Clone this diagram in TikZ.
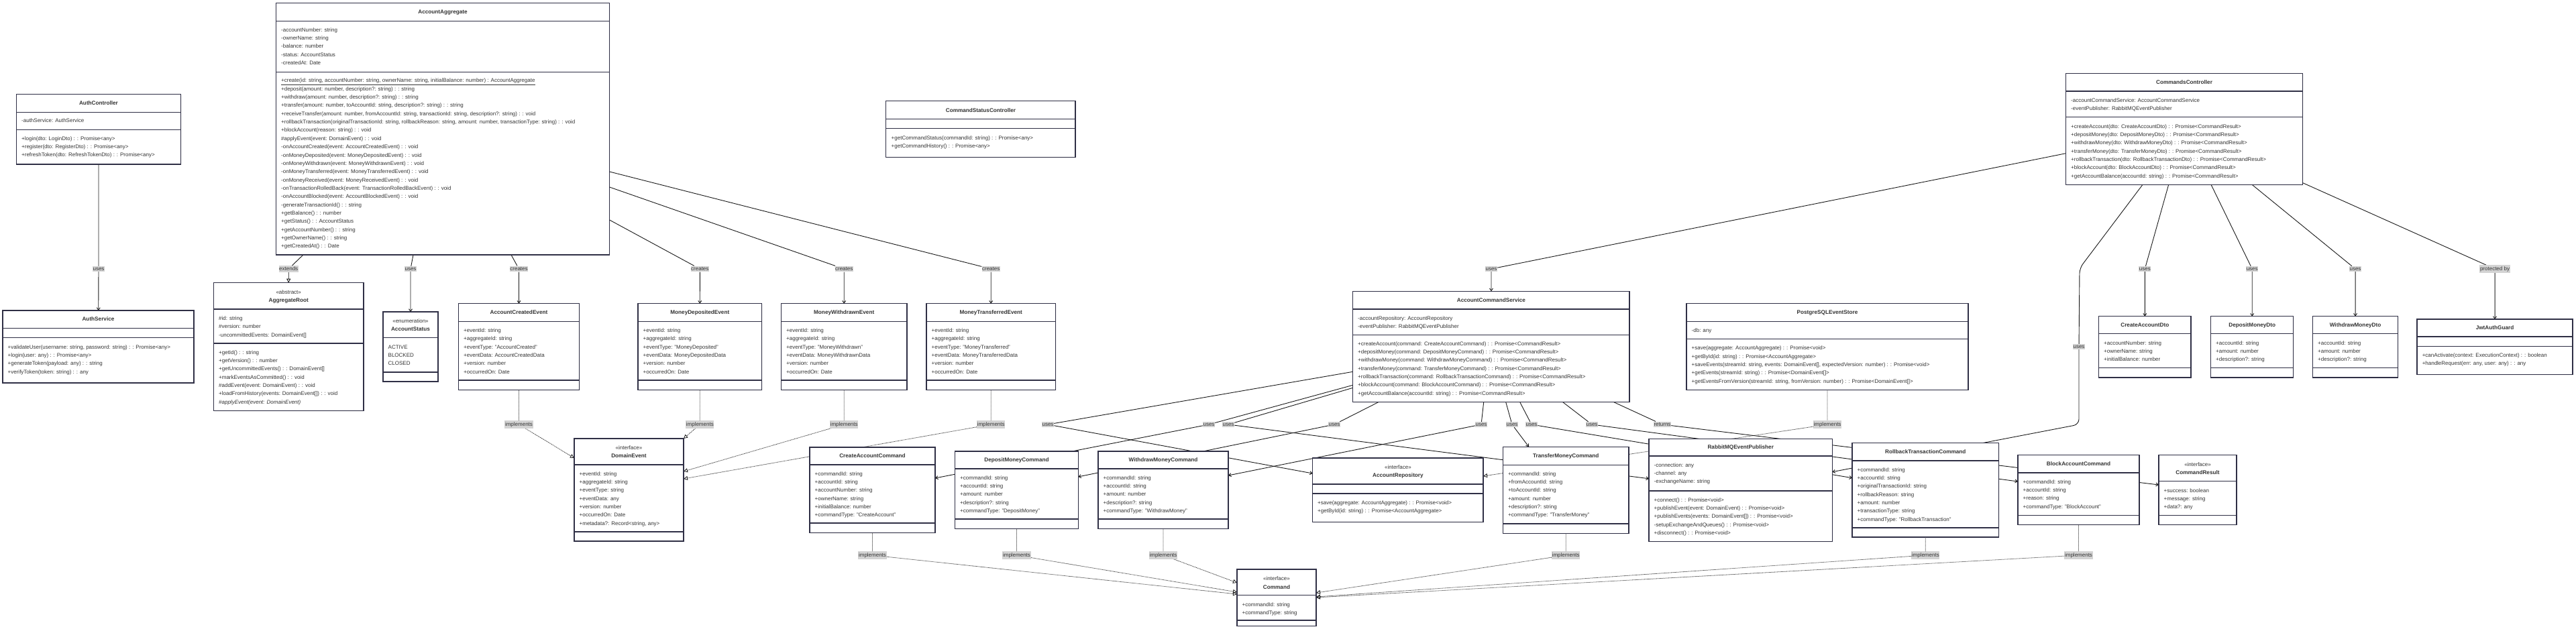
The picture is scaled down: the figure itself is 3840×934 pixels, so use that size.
\documentclass[tikz,border=0pt]{standalone}
\usepackage{fontspec}
\setmainfont{Liberation Sans}
\usetikzlibrary{arrows.meta,shadows}

\definecolor{umlborder}{HTML}{2F2F45}
\definecolor{umltext}{HTML}{333333}
\definecolor{edgebg}{HTML}{D3D3D3}
\definecolor{edgeink}{HTML}{1A1A1A}

\pgfdeclarelayer{background}
\pgfdeclarelayer{edges}
\pgfsetlayers{background,edges,main}

\tikzset{
  classbox/.style={draw=umlborder,fill=white,line width=1.3pt,outer sep=0pt,inner sep=0pt,
    drop shadow={opacity=0.08,shadow xshift=1.2pt,shadow yshift=-1.2pt}},
  classline/.style={draw=umlborder,line width=1.2pt},
  rowtext/.style={anchor=west,inner sep=0pt,text=umltext,text height=6pt,text depth=1.7pt,
    font=\fontsize{8}{9.6}\selectfont},
  titletext/.style={inner sep=0pt,text=umltext,text height=6pt,text depth=1.7pt,
    font=\fontsize{8.2}{9.6}\selectfont\bfseries},
  stereotext/.style={inner sep=0pt,text=umltext,text height=6pt,text depth=1.7pt,
    font=\fontsize{8}{9.6}\selectfont},
  edgelabel/.style={fill=edgebg,text=umltext,inner xsep=0.6pt,inner ysep=1.8pt,
    font=\fontsize{8}{9.6}\selectfont},
  assoc/.style={draw=edgeink,line width=0.9pt,-{Straight Barb[length=3.5pt,width=5pt]}},
  extend/.style={draw=edgeink,line width=0.9pt,-{Triangle[open,length=6pt,width=6pt]}},
  realize/.style={draw=edgeink,line width=0.8pt,dash pattern=on 1pt off 1pt,
    -{Triangle[open,length=6pt,width=6pt]}},
}

% box: name, left, right, top, header bottom, attribute bottom, bottom
\newcommand\UmlClass[7]{
  \node[classbox,anchor=north west,minimum width={(#3)-(#2)},minimum height={(#7)-(#4)}] (#1) at (#2,#4) {};
  \draw[classline] (#2,#5) -- (#3,#5);
  \draw[classline] (#2,#6) -- (#3,#6);
}
\newcommand\UmlTitle[4]{
  \node[titletext] (#1-title) at (#2,#3) {#4};
}
\newcommand\UmlStereo[6]{
  \node[stereotext] (#1-stereo) at (#2,#3) {«#5»};
  \node[titletext] (#1-title) at (#2,#4) {#6};
}
% rows: name, x, first y, id, list
\newcommand\UmlRows[5]{
  \foreach \row [count=\i] in {#5} {
    \node[rowtext] (#1-#4\i) at (#2,{#3+(\i-1)*12.35}) {\row};
  }
}

\begin{document}
\begin{tikzpicture}[x=1pt,y=-1pt]
\begin{pgfonlayer}{background}
  \fill[white] (0,0) rectangle (3840,934);
\end{pgfonlayer}
\useasboundingbox (0,0) rectangle (3840,934);

% auth
\UmlClass{authctl}{24.5}{269.4}{140.7}{167.3}{193.3}{245}
\UmlTitle{authctl}{147}{154}{AuthController}
\UmlRows{authctl}{32}{180.5}{a}{{-authService: AuthService}}
\UmlRows{authctl}{32}{207}{m}{{+login(dto: LoginDto) : : Promise<any>},{+register(dto: RegisterDto) : : Promise<any>},{+refreshToken(dto: RefreshTokenDto) : : Promise<any>}}

\UmlClass{authsvc}{4}{289}{463}{489.7}{503.7}{571}
\UmlTitle{authsvc}{146.5}{476.5}{AuthService}
\UmlRows{authsvc}{11.5}{518}{m}{{+validateUser(username: string, password: string) : : Promise<any>},{+login(user: any) : : Promise<any>},{+generateToken(payload: any) : : string},{+verifyToken(token: string) : : any}}

% domain
\UmlClass{agg}{411.4}{908.6}{4.7}{31.7}{107.3}{380}
\UmlTitle{agg}{660}{18.5}{AccountAggregate}
\UmlRows{agg}{419}{45}{a}{{-accountNumber: string},{-ownerName: string},{-balance: number},{-status: AccountStatus},{-createdAt: Date}}
\UmlRows{agg}{419}{120.7}{m}{{\underline{+create(id: string, accountNumber: string, ownerName: string, initialBalance: number) : AccountAggregate}},
  {+deposit(amount: number, description?: string) : : string},
  {+withdraw(amount: number, description?: string) : : string},
  {+transfer(amount: number, toAccountId: string, description?: string) : : string},
  {+receiveTransfer(amount: number, fromAccountId: string, transactionId: string, description?: string) : : void},
  {+rollbackTransaction(originalTransactionId: string, rollbackReason: string, amount: number, transactionType: string) : : void},
  {+blockAccount(reason: string) : : void},
  {\#applyEvent(event: DomainEvent) : : void},
  {-onAccountCreated(event: AccountCreatedEvent) : : void},
  {-onMoneyDeposited(event: MoneyDepositedEvent) : : void},
  {-onMoneyWithdrawn(event: MoneyWithdrawnEvent) : : void},
  {-onMoneyTransferred(event: MoneyTransferredEvent) : : void},
  {-onMoneyReceived(event: MoneyReceivedEvent) : : void},
  {-onTransactionRolledBack(event: TransactionRolledBackEvent) : : void},
  {-onAccountBlocked(event: AccountBlockedEvent) : : void},
  {-generateTransactionId() : : string},
  {+getBalance() : : number},
  {+getStatus() : : AccountStatus},
  {+getAccountNumber() : : string},
  {+getOwnerName() : : string},
  {+getCreatedAt() : : Date}}

\UmlClass{aggroot}{318.4}{542}{421.7}{461}{512}{612.7}
\UmlStereo{aggroot}{430.2}{436}{448}{abstract}{AggregateRoot}
\UmlRows{aggroot}{326}{475.3}{a}{{\#id: string},{\#version: number},{-uncommittedEvents: DomainEvent[]}}
\UmlRows{aggroot}{326}{526}{m}{{+getId() : : string},{+getVersion() : : number},{+getUncommittedEvents() : : DomainEvent[]},{+markEventsAsCommitted() : : void},{\#addEvent(event: DomainEvent) : : void},{+loadFromHistory(events: DomainEvent[]) : : void},{\itshape\#applyEvent(event: DomainEvent)}}

\UmlClass{accstatus}{571}{653}{465}{503.7}{555}{569}
\UmlStereo{accstatus}{612}{479}{491}{enumeration}{AccountStatus}
\UmlRows{accstatus}{578.5}{518}{a}{{ACTIVE},{BLOCKED},{CLOSED}}

% events
\UmlClass{acevt}{683.3}{863.7}{452.7}{479.7}{567}{581.7}
\UmlTitle{acevt}{773.5}{466}{AccountCreatedEvent}
\UmlRows{acevt}{691}{493.3}{a}{{+eventId: string},{+aggregateId: string},{+eventType: "AccountCreated"},{+eventData: AccountCreatedData},{+version: number},{+occurredOn: Date}}

\UmlClass{mdevt}{951}{1135.5}{452.7}{479.7}{567}{581.7}
\UmlTitle{mdevt}{1043.3}{466}{MoneyDepositedEvent}
\UmlRows{mdevt}{958.5}{493.3}{a}{{+eventId: string},{+aggregateId: string},{+eventType: "MoneyDeposited"},{+eventData: MoneyDepositedData},{+version: number},{+occurredOn: Date}}

\UmlClass{mwevt}{1164.5}{1352}{452.7}{479.7}{567}{581.7}
\UmlTitle{mwevt}{1258.2}{466}{MoneyWithdrawnEvent}
\UmlRows{mwevt}{1172}{493.3}{a}{{+eventId: string},{+aggregateId: string},{+eventType: "MoneyWithdrawn"},{+eventData: MoneyWithdrawnData},{+version: number},{+occurredOn: Date}}

\UmlClass{mtevt}{1381}{1573.5}{452.7}{479.7}{567}{581.7}
\UmlTitle{mtevt}{1477.2}{466}{MoneyTransferredEvent}
\UmlRows{mtevt}{1388.5}{493.3}{a}{{+eventId: string},{+aggregateId: string},{+eventType: "MoneyTransferred"},{+eventData: MoneyTransferredData},{+version: number},{+occurredOn: Date}}

\UmlClass{domevt}{856}{1019}{654}{693}{793}{807}
\UmlStereo{domevt}{937.5}{668}{680}{interface}{DomainEvent}
\UmlRows{domevt}{863.5}{707}{a}{{+eventId: string},{+aggregateId: string},{+eventType: string},{+eventData: any},{+version: number},{+occurredOn: Date},{+metadata?: Record<string, any>}}

% commands
\UmlClass{cacmd}{1207}{1394}{667}{693}{780}{794.7}
\UmlTitle{cacmd}{1300.5}{680}{CreateAccountCommand}
\UmlRows{cacmd}{1214.5}{707}{a}{{+commandId: string},{+accountId: string},{+accountNumber: string},{+ownerName: string},{+initialBalance: number},{+commandType: "CreateAccount"}}

\UmlClass{dmcmd}{1423.7}{1607.3}{673}{699}{774}{788.7}
\UmlTitle{dmcmd}{1515.5}{686.5}{DepositMoneyCommand}
\UmlRows{dmcmd}{1431}{713}{a}{{+commandId: string},{+accountId: string},{+amount: number},{+description?: string},{+commandType: "DepositMoney"}}

\UmlClass{wmcmd}{1637}{1831}{673}{699}{774}{788.7}
\UmlTitle{wmcmd}{1734}{686.5}{WithdrawMoneyCommand}
\UmlRows{wmcmd}{1644.5}{713}{a}{{+commandId: string},{+accountId: string},{+amount: number},{+description?: string},{+commandType: "WithdrawMoney"}}

\UmlClass{tmcmd}{2240.4}{2428}{666.3}{693.7}{781}{795.3}
\UmlTitle{tmcmd}{2334.2}{680}{TransferMoneyCommand}
\UmlRows{tmcmd}{2248}{707}{a}{{+commandId: string},{+fromAccountId: string},{+toAccountId: string},{+amount: number},{+description?: string},{+commandType: "TransferMoney"}}

\UmlClass{rbcmd}{2761}{2979.6}{660.3}{687}{787}{801}
\UmlTitle{rbcmd}{2870.3}{674}{RollbackTransactionCommand}
\UmlRows{rbcmd}{2768.5}{701}{a}{{+commandId: string},{+accountId: string},{+originalTransactionId: string},{+rollbackReason: string},{+amount: number},{+transactionType: string},{+commandType: "RollbackTransaction"}}

\UmlClass{bacmd}{3008}{3189}{678.7}{705}{768.7}{782.7}
\UmlTitle{bacmd}{3098.5}{692}{BlockAccountCommand}
\UmlRows{bacmd}{3015.5}{719}{a}{{+commandId: string},{+accountId: string},{+reason: string},{+commandType: "BlockAccount"}}

\UmlClass{cmdres}{3218}{3334}{678.7}{717.7}{768.7}{782.7}
\UmlStereo{cmdres}{3276}{693}{705}{interface}{CommandResult}
\UmlRows{cmdres}{3225.5}{732}{a}{{+success: boolean},{+message: string},{+data?: any}}

\UmlClass{cmd}{1844}{1962}{849}{887.7}{925}{933.4}
\UmlStereo{cmd}{1903}{863}{876}{interface}{Command}
\UmlRows{cmd}{1851.5}{902}{a}{{+commandId: string},{+commandType: string}}

% services and infrastructure
\UmlClass{acs}{2016.7}{2429}{434.3}{461}{499.7}{599.7}
\UmlTitle{acs}{2222.9}{448}{AccountCommandService}
\UmlRows{acs}{2024}{475}{a}{{-accountRepository: AccountRepository},{-eventPublisher: RabbitMQEventPublisher}}
\UmlRows{acs}{2024}{513}{m}{{+createAccount(command: CreateAccountCommand) : : Promise<CommandResult>},{+depositMoney(command: DepositMoneyCommand) : : Promise<CommandResult>},{+withdrawMoney(command: WithdrawMoneyCommand) : : Promise<CommandResult>},{+transferMoney(command: TransferMoneyCommand) : : Promise<CommandResult>},{+rollbackTransaction(command: RollbackTransactionCommand) : : Promise<CommandResult>},{+blockAccount(command: BlockAccountCommand) : : Promise<CommandResult>},{+getAccountBalance(accountId: string) : : Promise<CommandResult>}}

\UmlClass{repo}{1956.7}{2211}{683}{722}{736}{778.7}
\UmlStereo{repo}{2083.9}{697}{709}{interface}{AccountRepository}
\UmlRows{repo}{1964}{750}{m}{{+save(aggregate: AccountAggregate) : : Promise<void>},{+getById(id: string) : : Promise<AccountAggregate>}}

\UmlClass{pgstore}{2514}{2934}{452.7}{479.7}{505.7}{581.3}
\UmlTitle{pgstore}{2724}{466}{PostgreSQLEventStore}
\UmlRows{pgstore}{2521.5}{493}{a}{{-db: any}}
\UmlRows{pgstore}{2521.5}{519.7}{m}{{+save(aggregate: AccountAggregate) : : Promise<void>},{+getById(id: string) : : Promise<AccountAggregate>},{+saveEvents(streamId: string, events: DomainEvent[], expectedVersion: number) : : Promise<void>},{+getEvents(streamId: string) : : Promise<DomainEvent[]>},{+getEventsFromVersion(streamId: string, fromVersion: number) : : Promise<DomainEvent[]>}}

\UmlClass{rabbit}{2458}{2731.4}{654.3}{680}{732}{807.7}
\UmlTitle{rabbit}{2594.7}{667.5}{RabbitMQEventPublisher}
\UmlRows{rabbit}{2465.5}{694}{a}{{-connection: any},{-channel: any},{-exchangeName: string}}
\UmlRows{rabbit}{2465.5}{746}{m}{{+connect() : : Promise<void>},{+publishEvent(event: DomainEvent) : : Promise<void>},{+publishEvents(events: DomainEvent[]) : : Promise<void>},{-setupExchangeAndQueues() : : Promise<void>},{+disconnect() : : Promise<void>}}

% controllers
\UmlClass{cmdctl}{3079.6}{3432.7}{109.3}{136}{174.3}{275.3}
\UmlTitle{cmdctl}{3256}{123}{CommandsController}
\UmlRows{cmdctl}{3087}{150}{a}{{-accountCommandService: AccountCommandService},{-eventPublisher: RabbitMQEventPublisher}}
\UmlRows{cmdctl}{3087}{189}{m}{{+createAccount(dto: CreateAccountDto) : : Promise<CommandResult>},{+depositMoney(dto: DepositMoneyDto) : : Promise<CommandResult>},{+withdrawMoney(dto: WithdrawMoneyDto) : : Promise<CommandResult>},{+transferMoney(dto: TransferMoneyDto) : : Promise<CommandResult>},{+rollbackTransaction(dto: RollbackTransactionDto) : : Promise<CommandResult>},{+blockAccount(dto: BlockAccountDto) : : Promise<CommandResult>},{+getAccountBalance(accountId: string) : : Promise<CommandResult>}}

\UmlClass{statusctl}{1320.8}{1603}{150.7}{177.7}{191.7}{234.3}
\UmlTitle{statusctl}{1462}{165}{CommandStatusController}
\UmlRows{statusctl}{1328.5}{206.3}{m}{{+getCommandStatus(commandId: string) : : Promise<any>},{+getCommandHistory() : : Promise<any>}}

% dtos and guard
\UmlClass{cadto}{3128.6}{3266}{471.7}{497.7}{548.7}{563}
\UmlTitle{cadto}{3197.3}{485}{CreateAccountDto}
\UmlRows{cadto}{3136}{512}{a}{{+accountNumber: string},{+ownerName: string},{+initialBalance: number}}

\UmlClass{dmdto}{3295.5}{3418.8}{471.7}{497.7}{548.7}{563}
\UmlTitle{dmdto}{3357.2}{485}{DepositMoneyDto}
\UmlRows{dmdto}{3303}{512}{a}{{+accountId: string},{+amount: number},{+description?: string}}

\UmlClass{wmdto}{3447.8}{3574.3}{471.7}{497.7}{548.7}{563}
\UmlTitle{wmdto}{3511}{485}{WithdrawMoneyDto}
\UmlRows{wmdto}{3455}{512}{a}{{+accountId: string},{+amount: number},{+description?: string}}

\UmlClass{jwt}{3603}{3835}{476}{502}{516.3}{558.7}
\UmlTitle{jwt}{3719}{489}{JwtAuthGuard}
\UmlRows{jwt}{3610.5}{530}{m}{{+canActivate(context: ExecutionContext) : : boolean},{+handleRequest(err: any, user: any) : : any}}

% edge labels
\node[edgelabel] (lb-auth) at (147,401) {uses};
\node[edgelabel] (lb-ext) at (430.2,401) {extends};
\node[edgelabel] (lb-status) at (612,401) {uses};
\node[edgelabel] (lb-ace) at (773.5,401) {creates};
\node[edgelabel] (lb-mde) at (1043.3,401) {creates};
\node[edgelabel] (lb-mwe) at (1258.2,401) {creates};
\node[edgelabel] (lb-mte) at (1477.2,401) {creates};
\node[edgelabel] (lb-acs) at (2223,401) {uses};
\node[edgelabel] (lb-cadto) at (3197.3,401) {uses};
\node[edgelabel] (lb-dmdto) at (3357.2,401) {uses};
\node[edgelabel] (lb-wmdto) at (3511,401) {uses};
\node[edgelabel] (lb-jwt) at (3719,401) {protected by};
\node[edgelabel] (lb-pub) at (3099,517) {uses};

\node[edgelabel] (li-ace) at (773.5,633) {implements};
\node[edgelabel] (li-mde) at (1043.3,633) {implements};
\node[edgelabel] (li-mwe) at (1258.2,633) {implements};
\node[edgelabel] (li-mte) at (1477.2,633) {implements};
\node[edgelabel] (li-pg) at (2724,633) {implements};

\node[edgelabel] (lu-repo) at (1562,633) {uses};
\node[edgelabel] (lu-cacmd) at (1802,633) {uses};
\node[edgelabel] (lu-rabbit) at (1831,633) {uses};
\node[edgelabel] (lu-dmcmd) at (1989,633) {uses};
\node[edgelabel] (lu-wmcmd) at (2208,633) {uses};
\node[edgelabel] (lu-tmcmd) at (2254,633) {uses};
\node[edgelabel] (lu-rbcmd) at (2283,633) {uses};
\node[edgelabel] (lu-bacmd) at (2373,633) {uses};
\node[edgelabel] (lu-res) at (2478,633) {returns};

\node[edgelabel] (li-cacmd) at (1300.5,828) {implements};
\node[edgelabel] (li-dmcmd) at (1515.5,828) {implements};
\node[edgelabel] (li-wmcmd) at (1734,828) {implements};
\node[edgelabel] (li-tmcmd) at (2334.2,828) {implements};
\node[edgelabel] (li-rbcmd) at (2870.3,828) {implements};
\node[edgelabel] (li-bacmd) at (3098.5,828) {implements};

\begin{pgfonlayer}{edges}
% auth and aggregate
\draw[assoc] (authctl) -- (lb-auth) -- (authsvc);
\draw[extend] ([xshift=40.6pt]agg.south west) -- (lb-ext) -- (aggroot);
\draw[assoc] ([xshift=204.6pt]agg.south west) -- (lb-status) -- (accstatus);
\draw[assoc] ([xshift=350.6pt]agg.south west) -- (lb-ace) -- (acevt);
\draw[assoc] ([yshift=-323.3pt]agg.north east) -- (lb-mde) -- (mdevt);
\draw[assoc] ([yshift=-274.3pt]agg.north east) -- (lb-mwe) -- (mwevt);
\draw[assoc] ([yshift=-251.3pt]agg.north east) -- (lb-mte) -- (mtevt);

% events implement DomainEvent
\draw[realize] (acevt) -- (li-ace) -- ([yshift=-29pt]domevt.north west);
\draw[realize] (mdevt) -- (li-mde) -- (domevt.north east);
\draw[realize] (mwevt) -- (li-mwe) -- ([yshift=-49pt]domevt.north east);
\draw[realize] (mtevt) -- (li-mte) -- ([yshift=-60pt]domevt.north east);

% controllers
\draw[assoc] ([yshift=-119.4pt]cmdctl.north west) -- (lb-acs) -- ([xshift=206.3pt]acs.north west);
\draw[assoc] ([xshift=153.1pt]cmdctl.south west) -- (lb-cadto) -- (cadto);
\draw[assoc] ([xshift=216.4pt]cmdctl.south west) -- (lb-dmdto) -- (dmdto);
\draw[assoc] ([xshift=277.4pt]cmdctl.south west) -- (lb-wmdto) -- (wmdto);
\draw[assoc] ([yshift=2.6pt]cmdctl.south east) -- (lb-jwt) -- (jwt);
\draw[assoc,rounded corners=8pt] ([xshift=114.4pt]cmdctl.south west) -- (3100,400) -- (lb-pub) -- (3099,633) -- ([yshift=-49.4pt]rabbit.north east);

% command service
\draw[assoc] ([yshift=-120pt]acs.north west) -- (lu-repo) -- ([yshift=-23pt]repo.north west);
\draw[assoc] ([yshift=-140pt]acs.north west) -- (lu-cacmd) -- ([yshift=-46pt]cacmd.north east);
\draw[assoc] ([yshift=-144pt]acs.north west) -- (lu-rabbit) -- ([yshift=-59.5pt]rabbit.north west);
\draw[assoc] ([xshift=38pt]acs.south west) -- (lu-dmcmd) -- ([yshift=-38pt]dmcmd.north east);
\draw[assoc] ([xshift=195pt]acs.south west) -- (lu-wmcmd) -- ([yshift=-36pt]wmcmd.north east);
\draw[assoc] ([xshift=228pt]acs.south west) -- (lu-tmcmd) -- ([xshift=38.6pt]tmcmd.north west);
\draw[assoc] ([xshift=249pt]acs.south west) -- (lu-rbcmd) -- ([yshift=-52.4pt]rbcmd.north west);
\draw[assoc] ([xshift=313pt]acs.south west) -- (lu-bacmd) -- ([yshift=-39.3pt]bacmd.north west);
\draw[assoc] ([xshift=389pt]acs.south west) -- (lu-res) -- ([yshift=-44.3pt]cmdres.north west);
\draw[realize] (pgstore) -- (li-pg) -- ([yshift=-27pt]repo.north east);

% commands implement Command
\draw[realize] (cacmd) -- (li-cacmd) -- ([yshift=-37pt]cmd.north west);
\draw[realize] (dmcmd) -- (li-dmcmd) -- ([yshift=-34pt]cmd.north west);
\draw[realize] (wmcmd) -- (li-wmcmd) -- ([yshift=-20pt]cmd.north west);
\draw[realize] (tmcmd) -- (li-tmcmd) -- ([yshift=-35pt]cmd.north east);
\draw[realize] (rbcmd) -- (li-rbcmd) -- ([yshift=-41pt]cmd.north east);
\draw[realize] (bacmd) -- (li-bacmd) -- ([yshift=-42pt]cmd.north east);
\end{pgfonlayer}
\end{tikzpicture}
\end{document}
